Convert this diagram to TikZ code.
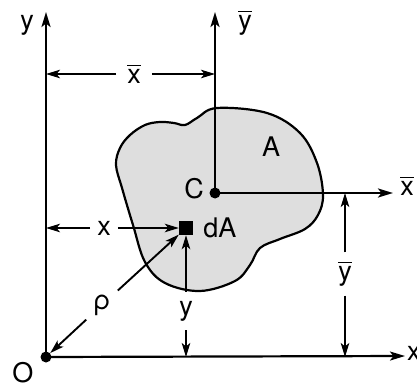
\documentclass[tikz,border=0pt]{standalone}
\usepackage{amsmath}
\usepackage{fontspec}
\setmainfont{TeX Gyre Heros}
\usetikzlibrary{positioning, arrows.meta}

\newcommand{\barred}[1]{$\overline{\text{#1}}$}

\begin{document}
\begin{tikzpicture}[x=1pt, y=-1pt,
    axis/.style={line width=2.2pt, -{Stealth[length=15pt, width=9pt, inset=3.5pt]}},
    dim/.style={line width=1.9pt, -{Stealth[length=14pt, width=8.5pt, inset=3.5pt]}},
    lbl/.style={font=\fontsize{27}{30}\selectfont, inner sep=1pt},
    gap/.style={lbl, inner sep=6pt},
    dot/.style={circle, fill=black, inner sep=0pt, minimum size=11pt},
    blob/.style={line width=2.2pt, fill=black!13}]
    \useasboundingbox (0,0) rectangle (417,390);

    % area A
    \draw[blob] plot[smooth cycle, tension=0.6] coordinates {
        (217,108) (267,113) (300,133) (317,163) (323,195) (318,215)
        (305,229) (280,239) (260,248) (250,265) (235,281) (200,291)
        (165,283) (145,262) (133,225) (122,188) (116,165) (120,148)
        (130,135) (145,125) (160,122) (174,123) (185,125) (197,118)};
    \node[lbl] (A) at (271,147) {A};

    % origin and centroid
    \node[dot] (O) at (46,357) {};
    \node[dot] (C) at (215,193) {};
    \coordinate (ytip) at (46,12);
    \coordinate (xtip) at (405,356);
    \coordinate (ybartip) at (215,12);
    \coordinate (xbartip) at (393,193);

    \draw[axis] (O.center) -- (ytip);
    \draw[axis] (O.center) -- (xtip);
    \draw[axis] (C.center) -- (ybartip);
    \draw[axis] (C.center) -- (xbartip);

    \node[lbl] (ylab) at (27,25) {y};
    \node[lbl, anchor=west] (xlab) at (406,353) {x};
    \node[lbl] (ybarlab) at (245,23) {\barred{y}};
    \node[lbl] (xbarlab) at (407,186) {\barred{x}};
    \node[lbl] (Olab) at (23,373) {O};
    \node[lbl] (Clab) at (194,189) {C};

    % element dA
    \node[fill=black, inner sep=0pt, minimum size=14pt] (dA) at (186,228) {};
    \node[lbl, right=9pt of dA] (dAlab) {dA};

    % dimensions
    \node[gap, inner xsep=11pt] (xbar) at (134,74) {\barred{x}};
    \draw[dim] (xbar) -- (xbar -| O);
    \draw[dim] (xbar) -- (xbar -| C);

    \node[gap, inner xsep=7pt] (xd) at (104,228) {x};
    \draw[dim] (xd) -- (xd -| O);
    \draw[dim] (xd) -- (dA);

    \node[gap, inner ysep=9pt] (yd) at (186,311) {y};
    \draw[dim] (yd) -- (dA);
    \draw[dim] (yd) -- (yd |- O);

    \node[gap, inner sep=7pt] (rho) at (102,305) {ρ};
    \draw[dim] (rho) -- (O);
    \draw[dim] (rho) -- (dA);

    \node[gap, inner ysep=9pt] (ybar) at (345,274) {\barred{y}};
    \draw[dim] (ybar) -- (ybar |- C);
    \draw[dim] (ybar) -- (ybar |- O);
\end{tikzpicture}
\end{document}
